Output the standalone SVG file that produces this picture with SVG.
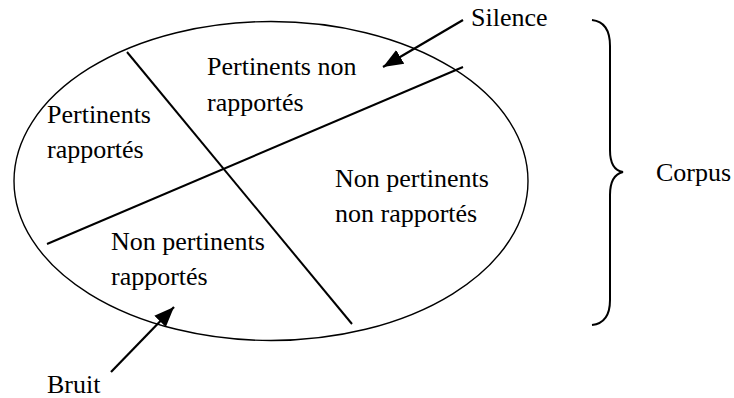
<svg xmlns="http://www.w3.org/2000/svg" width="734" height="398" viewBox="0 0 734 398">
<style>
.t{font-family:'Liberation Serif','Times New Roman','DejaVu Serif',serif;font-size:26px;fill:#000}
.ln{stroke:#000;stroke-width:2;fill:none}
.ar{stroke:#000;stroke-width:2.2;fill:none}
</style>
<defs>
<marker id="ah" markerUnits="userSpaceOnUse" markerWidth="22" markerHeight="18" viewBox="0 0 22 18" refX="20" refY="9" orient="auto">
<path d="M0,1 L20,9 L0,17 Z" fill="#000"/>
</marker>
</defs>
<rect width="734" height="398" fill="#fff"/>
<g id="corpus-ellipse">
<ellipse cx="271" cy="181" rx="257" ry="159.5" fill="none" stroke="#000" stroke-width="1.4"/>
</g>
<g id="connectors">
<line class="ln" x1="127" y1="52" x2="352" y2="324"/>
<line class="ln" x1="47" y1="244" x2="463" y2="67"/>
<line class="ar" x1="463" y1="20" x2="383" y2="67" marker-end="url(#ah)"/>
<line class="ar" x1="111" y1="372" x2="174" y2="307" marker-end="url(#ah)"/>
<path class="ln" stroke-width="1.6" d="M592,20 Q610,22 610,46 L610,150 Q610,170 623,172 Q610,175 610,195 L610,300 Q610,323 592,325"/>
</g>
<g id="pertinents-non-rapportes">
<text class="t" x="207" y="75">Pertinents non</text>
<text class="t" x="207" y="111">rapportés</text>
</g>
<g id="pertinents-rapportes">
<text class="t" x="47" y="123">Pertinents</text>
<text class="t" x="47" y="158">rapportés</text>
</g>
<g id="non-pertinents-non-rapportes">
<text class="t" x="335" y="187">Non pertinents</text>
<text class="t" x="335" y="222">non rapportés</text>
</g>
<g id="non-pertinents-rapportes">
<text class="t" x="111" y="250">Non pertinents</text>
<text class="t" x="111" y="285">rapportés</text>
</g>
<g id="silence"><text class="t" x="471" y="26">Silence</text></g>
<g id="bruit"><text class="t" x="47" y="393">Bruit</text></g>
<g id="corpus"><text class="t" x="656" y="181">Corpus</text></g>
</svg>
